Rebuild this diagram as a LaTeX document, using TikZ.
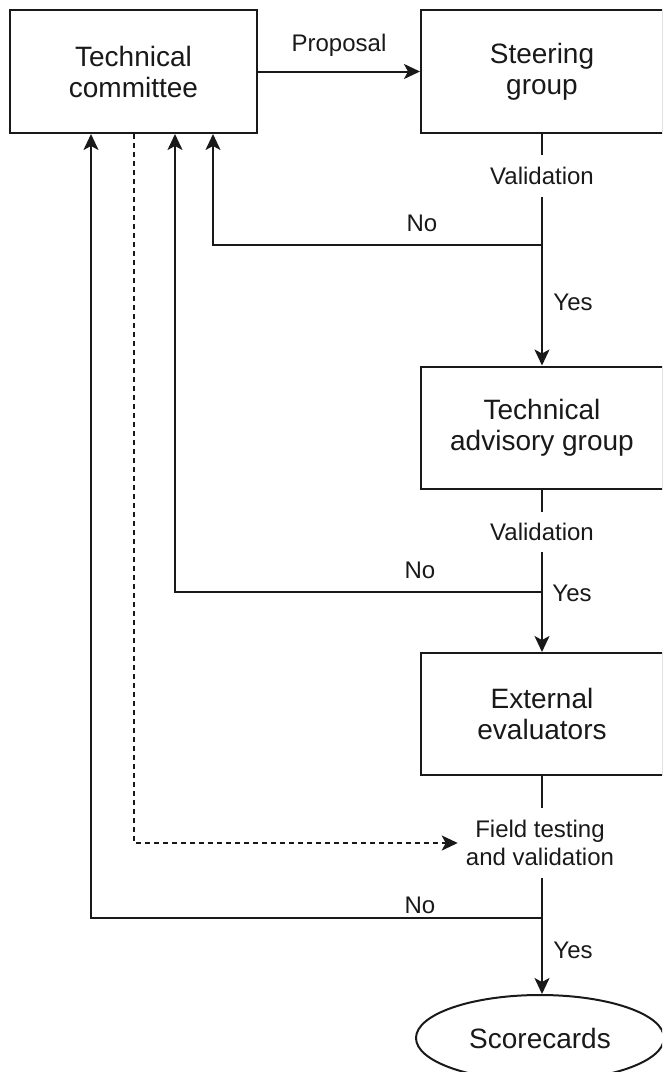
\documentclass[tikz,border=0pt]{standalone}
\usepackage{fontspec}
\setmainfont{Liberation Sans}
\usetikzlibrary{arrows.meta,shapes.geometric}
\definecolor{ink}{RGB}{25,25,25}
\begin{document}
\begin{tikzpicture}[x=1pt,y=-1pt,
  boxnode/.style={draw=ink, line width=2pt, fill=white, inner sep=0pt, align=center,
    minimum height=123pt, font=\fontsize{28}{31}\selectfont, text=ink},
  ovalnode/.style={ellipse, draw=ink, line width=2pt, inner sep=0pt,
    minimum width=248pt, minimum height=86pt, font=\fontsize{28}{31}\selectfont, text=ink},
  lab/.style={inner sep=0pt, align=center, font=\fontsize{24}{28}\selectfont, text=ink},
  conn/.style={draw=ink, line width=2pt},
  arr/.style={conn, -{Stealth[length=16pt,width=15pt,inset=4pt]}},
  dashconn/.style={arr, dash pattern=on 5pt off 4pt}
]
\useasboundingbox (0,0) rectangle (662,1072);
\clip (0,0) rectangle (662,1072);

% boxes
\node[boxnode, minimum width=247pt] (tc) at (133.5,71.5) {Technical\\committee};
\node[boxnode, minimum width=242pt] (steer) at (542,71.5) {Steering\\group};
\node[boxnode, minimum width=242pt, minimum height=122pt] (tag) at (542,427.5) {Technical\\advisory group};
\node[boxnode, minimum width=242pt, minimum height=122pt] (ee) at (542,714) {External\\evaluators};
\node[ovalnode] (sc) at (540,1038) {Scorecards};

% decision labels
\node[lab, minimum height=42pt] (val1) at (542,176) {Validation};
\node[lab, minimum height=40pt] (val2) at (542,532) {Validation};
\node[lab, minimum height=70pt] (field) at (540,843) {Field testing\\and validation};

% branch points
\coordinate (b1) at (542,245);
\coordinate (b2) at (542,592);
\coordinate (b3) at (542,918);

% Yes / No labels
\node[lab] (no1) at (422,223) {No};
\node[lab] (no2) at (420,570) {No};
\node[lab] (no3) at (420,905) {No};
\node[lab] (yes1) at (573,302) {Yes};
\node[lab] (yes2) at (572,593) {Yes};
\node[lab] (yes3) at (573,950) {Yes};

% proposal
\draw[arr] (tc.east) -- node[lab, midway, above=14pt] (prop) {Proposal} (steer.west);

% steering -> validation -> TAG
\draw[conn] (steer.south) -- (val1.north);
\draw[arr] (val1.south) -- (tag.north);
\draw[arr] (b1) -| ([xshift=79.5pt]tc.south);

% TAG -> validation -> EE
\draw[conn] (tag.south) -- (val2.north);
\draw[arr] (val2.south) -- (ee.north);
\draw[arr] (b2) -| ([xshift=41.5pt]tc.south);

% EE -> field testing -> scorecards
\draw[conn] (ee.south) -- ([xshift=2pt]field.north);
\draw[arr] ([xshift=2pt]field.south) -- ([xshift=2pt]sc.north);
\draw[arr] (b3) -| ([xshift=-42.5pt]tc.south);

% dashed
\draw[dashconn] ([xshift=0.5pt]tc.south) |- ([xshift=-8pt]field.west);
\end{tikzpicture}
\end{document}
